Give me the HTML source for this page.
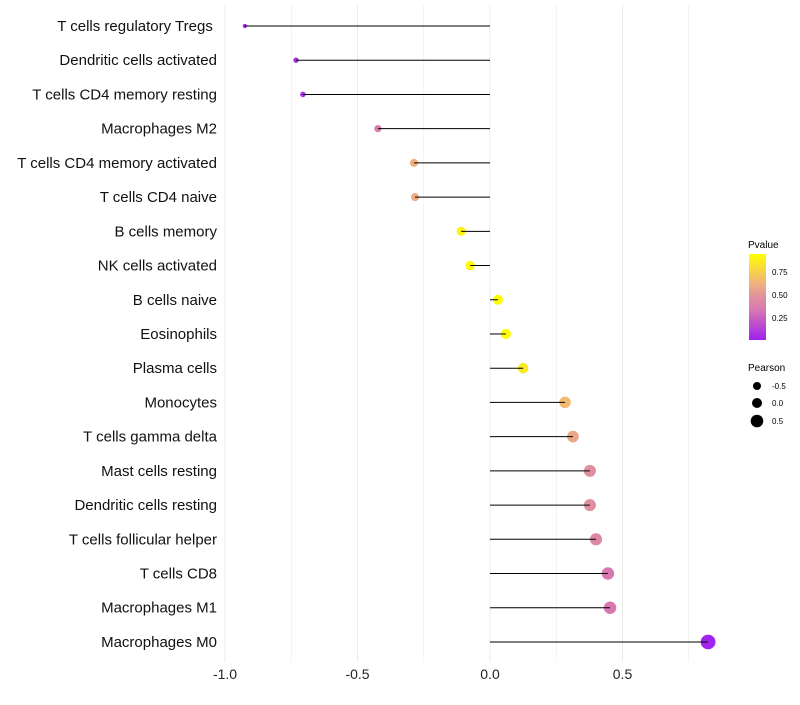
<!DOCTYPE html>
<html><head><meta charset="utf-8"><style>
body{margin:0;background:#fff;font-family:"Liberation Sans",sans-serif;}
</style></head><body>
<svg id="chart" width="800" height="700" xmlns="http://www.w3.org/2000/svg" font-family="Liberation Sans, sans-serif">
<defs><linearGradient id="pg" x1="0" y1="1" x2="0" y2="0">
<stop offset="0" stop-color="#a020f0"/><stop offset="0.35" stop-color="#d878b0"/><stop offset="0.5" stop-color="#e090a0"/><stop offset="0.65" stop-color="#f0b080"/><stop offset="1" stop-color="#ffff00"/></linearGradient></defs>
<g id="grid"></g>
<g id="marks"></g>
<g id="legend">
<text x="748" y="248" font-size="10">Pvalue</text>
<rect x="749" y="254" width="17" height="86" fill="url(#pg)"/>
<text x="772" y="275" font-size="8">0.75</text>
<text x="772" y="298" font-size="8">0.50</text>
<text x="772" y="321" font-size="8">0.25</text>
<text x="748" y="371" font-size="10">Pearson</text>
<circle cx="757" cy="386" r="4" fill="#000"/>
<text x="772" y="389" font-size="8">-0.5</text>
<circle cx="757" cy="403" r="5" fill="#000"/>
<text x="772" y="406" font-size="8">0.0</text>
<circle cx="757" cy="421" r="6.3" fill="#000"/>
<text x="772" y="424" font-size="8">0.5</text>
</g>
</svg>
<script>
const categories=["T cells regulatory  Tregs\u00a0","Dendritic cells activated","T cells CD4 memory resting","Macrophages M2","T cells CD4 memory activated","T cells CD4 naive","B cells memory","NK cells activated","B cells naive","Eosinophils","Plasma cells","Monocytes","T cells gamma delta","Mast cells resting","Dendritic cells resting","T cells follicular helper","T cells CD8","Macrophages M1","Macrophages M0"];
const pearson=[-0.925,-0.732,-0.706,-0.423,-0.287,-0.283,-0.109,-0.075,0.030,0.060,0.125,0.283,0.313,0.377,0.377,0.40,0.445,0.453,0.823];
const pvalues=[0.03,0.06,0.08,0.36,0.62,0.6,0.9,0.93,0.96,0.94,0.85,0.66,0.58,0.47,0.47,0.43,0.34,0.34,0.02];
const xTicks=[-1.0,-0.5,0.0,0.5];
const xTickLabels=["-1.0","-0.5","0.0","0.5"];
const ns="http://www.w3.org/2000/svg";
const xs=v=>490+v*265;
const ys=i=>26+i*34.22;
const rs=v=>Math.max(1.5,4.9+v*3);
const stops=[[0,[160,32,240]],[0.35,[216,120,176]],[0.5,[224,144,160]],[0.65,[240,176,128]],[1,[255,255,0]]];
function col(p){const t=Math.min(1,Math.max(0,(p-0.011)/(0.946-0.011)));
for(let k=1;k<stops.length;k++){if(t<=stops[k][0]){const a=stops[k-1],b=stops[k];const u=(t-a[0])/(b[0]-a[0]);
return 'rgb('+a[1].map((x,j)=>Math.round(x+(b[1][j]-x)*u)).join(',')+')';}}return 'rgb(255,255,0)';}
function mk(tag,at,parent){const e=document.createElementNS(ns,tag);for(const k in at)e.setAttribute(k,at[k]);parent.appendChild(e);return e;}
const grid=document.getElementById('grid'),marks=document.getElementById('marks');
for(let v=-1;v<=0.76;v+=0.25){const g=mk('line',{x1:xs(v),x2:xs(v),y1:5,y2:662,stroke:'#ebebeb','stroke-width':Math.abs(v*2-Math.round(v*2))<1e-6?1:0.6},grid);

}
xTicks.forEach((v,i)=>{const t=mk('text',{x:xs(v),y:679,'font-size':14,'text-anchor':'middle',fill:'#222'},marks);t.textContent=xTickLabels[i];

});
categories.forEach((c,i)=>{const y=ys(i);
const t=mk('text',{x:217,y:y+5,'font-size':15,'text-anchor':'end',fill:'#111'},marks);t.textContent=c;


const p=mk('circle',{cx:xs(pearson[i]),cy:y,r:rs(pearson[i]),fill:col(pvalues[i])},marks);


const l=mk('line',{x1:xs(0),x2:xs(pearson[i]),y1:y,y2:y,stroke:'#000','stroke-width':1},marks);

});
</script>
</body></html>
